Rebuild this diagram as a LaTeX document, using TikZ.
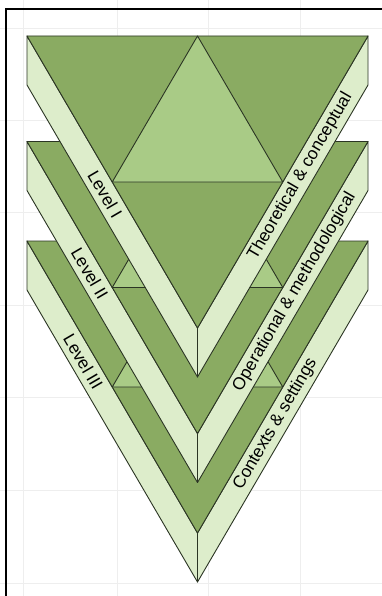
\documentclass[tikz,border=0pt]{standalone}
\usepackage{fontspec}
\setmainfont{Liberation Sans}
\usetikzlibrary{calc}
\definecolor{facegreen}{HTML}{8AAB62}
\definecolor{sidegreen}{HTML}{DDEDCB}
\definecolor{midgreen}{HTML}{A9CB86}
\definecolor{edgecol}{HTML}{2B3524}
\definecolor{gridcol}{HTML}{EEEEEE}
\tikzset{
  side/.style={fill=sidegreen, draw=edgecol, line width=0.9pt, line join=round},
  face/.style={fill=facegreen, draw=edgecol, line width=0.9pt, line join=round},
  mid/.style={fill=midgreen, draw=edgecol, line width=0.9pt, line join=round},
  lbl/.style={font=\fontsize{17.3}{20}\selectfont, inner sep=0pt, text=black},
  gridline/.style={draw=gridcol, line width=0.8pt},
  frameline/.style={draw=black, line width=2pt}
}
\newcommand\drawlevel[2]{%
  \coordinate (#2tl) at (27,#1);
  \coordinate (#2tr) at (368,#1);
  \coordinate (#2v) at (197.5,{#1+292});
  \coordinate (#2b) at (197.5,{#1+341});
  \coordinate (#2lb) at (27,{#1+49});
  \coordinate (#2rb) at (368,{#1+49});
  \filldraw[side] (#2tl) -- (#2v) -- (#2b) -- (#2lb) -- cycle;
  \filldraw[side] (#2tr) -- (#2v) -- (#2b) -- (#2rb) -- cycle;
  \filldraw[face] (#2tl) -- (#2tr) -- (#2v) -- cycle;
  \filldraw[mid] ($(#2tl)!0.5!(#2tr)$) -- ($(#2tl)!0.5!(#2v)$) -- ($(#2tr)!0.5!(#2v)$) -- cycle;
  \coordinate (#2lc1) at ($(#2tl)!0.5!(#2lb)$);
  \coordinate (#2lc2) at ($(#2v)!0.5!(#2b)$);
  \coordinate (#2rc2) at ($(#2tr)!0.5!(#2rb)$);
}
\begin{document}
\begin{tikzpicture}[x=1pt, y=-1pt]
\useasboundingbox (0,0) rectangle (382,596);
\fill[white] (0,0) rectangle (382,596);
% faint background grid
\foreach \gx in {23,117,208,300} \draw[gridline] (\gx,0) -- (\gx,596);
\foreach \gy in {28,120,212,305,397,490,583} \draw[gridline] (0,\gy) -- (382,\gy);
% frame
\draw[frameline] (5.5,596) -- (5.5,9.5) -- (382,9.5);
% Level III
\drawlevel{241}{C}
\path (Clc1) -- (Clc2) node[lbl, sloped, pos=0.33] (lvIII) {Level III};
\path (Clc2) -- (Crc2) node[lbl, sloped, pos=0.457] (ctx) {Contexts \& settings};
% Level II
\drawlevel{141.5}{B}
\path (Blc1) -- (Blc2) node[lbl, sloped, pos=0.368] (lvII) {Level II};
\path (Blc2) -- (Brc2) node[lbl, sloped, pos=0.569] (opm) {Operational \& methodological};
% Level I
\drawlevel{36}{A}
\path (Alc1) -- (Alc2) node[lbl, sloped, pos=0.458] (lvI) {Level I};
\path (Alc2) -- (Arc2) node[lbl, sloped, pos=0.603] (thc) {Theoretical \& conceptual};
\end{tikzpicture}
\end{document}
